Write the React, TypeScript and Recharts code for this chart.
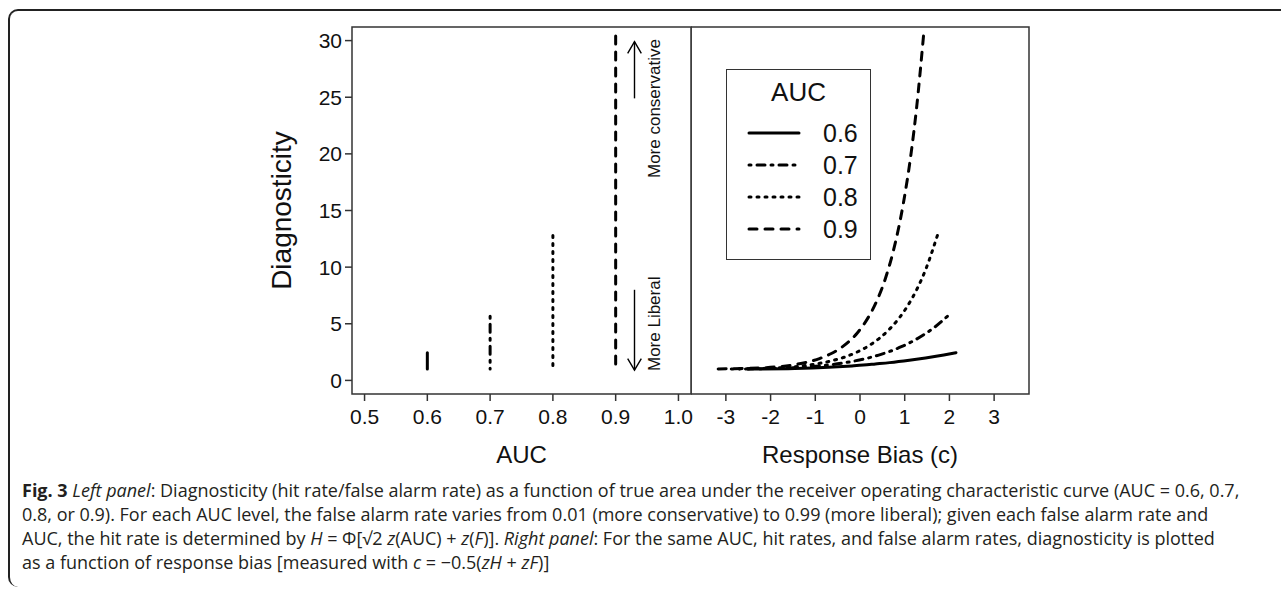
import React from "react";
import {
  LineChart,
  Line,
  XAxis,
  YAxis,
  ReferenceArea,
  ReferenceLine,
  ReferenceDot,
  Legend,
} from "recharts";

// R-style base graphics look: black lines, dark grey box, Arial-ish text.
const INK = "#000";
const AXIS = "#333";
const TXT = "#111";
const FONT = '"Liberation Sans", Arial, Helvetica, sans-serif';
const CAPTION_FONT = '"Open Sans", Lato, sans-serif';

// series
const aucNames = ["0.6", "0.7", "0.8", "0.9"];
const aucDash = ["0", "2 6 8 6", "2 6", "8 8"]; // lty solid, dotdash, dotted, dashed

// left panel: diagnosticity range (F = 0.01 .. 0.99) for each AUC
const leftAuc = [0.6, 0.7, 0.8, 0.9];
const leftTop = [2.45, 5.66, 12.8, 30.4];
const leftBottom = [1.006, 1.009, 1.01, 1.01];

// right panel: response bias c vs diagnosticity, F ascending
const bias06 = [2.147, 1.875, 1.702, 1.466, 1.103, 0.663, 0.345, 0.074, -0.179, -0.703, -1.461, -2.505];
const diag06 = [2.45, 2.25, 2.13, 1.98, 1.78, 1.57, 1.45, 1.35, 1.28, 1.16, 1.055, 1.006];
const bias07 = [1.955, 1.683, 1.51, 1.274, 1.105, 0.911, 0.665, 0.471, 0.154, -0.118, -0.371, -0.895, -1.652, -2.697];
const diag07 = [5.66, 4.74, 4.25, 3.67, 3.31, 2.95, 2.56, 2.3, 1.95, 1.72, 1.54, 1.28, 1.087, 1.009];
const bias08 = [1.731, 1.459, 1.286, 1.05, 0.881, 0.687, 0.441, 0.246, -0.071, -0.342, -0.595, -1.119, -1.877, -2.921];
const diag08 = [12.8, 9.69, 8.16, 6.49, 5.53, 4.64, 3.74, 3.18, 2.49, 2.06, 1.77, 1.367, 1.104, 1.01];
const bias09 = [1.42, 1.264, 1.148, 0.975, 0.739, 0.57, 0.376, 0.13, -0.065, -0.382, -0.653, -0.906, -1.431, -2.188, -3.232];
const diag09 = [30.4, 24.0, 20.2, 15.75, 11.33, 9.02, 7.02, 5.21, 4.17, 3.0, 2.35, 1.93, 1.415, 1.11, 1.01];

// axes
const yDomain = [-1.2, 31.2];
const yTicks = [0, 5, 10, 15, 20, 25, 30];
const aucDomain = [0.48, 1.02];
const aucTicks = [0.5, 0.6, 0.7, 0.8, 0.9, 1.0];
const biasDomain = [-3.78, 3.78];
const biasTicks = [-3, -2, -1, 0, 1, 2, 3];

// annotation anchors (data units of the left panel)
const arrowX = 0.93;
const upArrow = [24.9, 29.9];
const downArrow = [8.0, 0.9];
const noteX = 0.961;
const noteConservativeY = 24.0;
const noteLiberalY = 5.0;

const leftSeries = leftAuc.map((a, i) => [
  { a, d: leftTop[i] },
  { a, d: leftBottom[i] },
]);
const rightSeries = [
  [bias06, diag06],
  [bias07, diag07],
  [bias08, diag08],
  [bias09, diag09],
].map(([cs, ds]) => cs.map((c, j) => ({ c, d: ds[j] })));

const tickStyle = { fontSize: 21, fill: TXT, fontFamily: FONT };

function Arrow(p: any) {
  const { x1, y1, x2, y2 } = p;
  const ang = Math.atan2(y2 - y1, x2 - x1);
  const len = 13.5;
  const a1 = ang + Math.PI - 0.53;
  const a2 = ang + Math.PI + 0.53;
  const head = `M${x2 + len * Math.cos(a1)},${y2 + len * Math.sin(a1)} L${x2},${y2} L${x2 + len * Math.cos(a2)},${y2 + len * Math.sin(a2)}`;
  return (
    <g>
      <line x1={x1} y1={y1} x2={x2} y2={y2} stroke={INK} strokeWidth={1.4} />
      <path d={head} fill="none" stroke={INK} strokeWidth={1.4} />
    </g>
  );
}

function AucLegend(props: any) {
  const payload = props.payload ?? [];
  return (
    <div
      style={{
        border: `1.5px solid ${AXIS}`,
        background: "#fff",
        width: 145,
        height: 191,
        boxSizing: "border-box",
        fontFamily: FONT,
        color: TXT,
      }}
    >
      <div style={{ fontSize: 26, lineHeight: "30px", textAlign: "center", marginTop: 7 }}>AUC</div>
      <div style={{ marginTop: 10 }}>
        {payload.map((entry: any, i: number) => {
          const dash = entry.payload?.strokeDasharray ?? aucDash[i];
          return (
            <div key={i} style={{ display: "flex", alignItems: "center", height: 32 }}>
              <svg width={54} height={32} style={{ marginLeft: 20 }}>
                <line
                  x1={2}
                  y1={16}
                  x2={52}
                  y2={16}
                  stroke={INK}
                  strokeWidth={3}
                  strokeLinecap="round"
                  strokeDasharray={dash}
                />
              </svg>
              <span style={{ marginLeft: 22, fontSize: 25, lineHeight: "32px" }}>{entry.value ?? aucNames[i]}</span>
            </div>
          );
        })}
      </div>
    </div>
  );
}

const captionLine: React.CSSProperties = {
  position: "absolute",
  left: 22,
  whiteSpace: "nowrap",
  fontFamily: CAPTION_FONT,
  fontSize: 18,
  lineHeight: "24px",
  color: "#231f20",
};

export default function App() {
  return (
    <div
      style={{
        position: "absolute",
        left: 0,
        top: 0,
        width: 1281,
        height: 590,
        background: "#fff",
        fontFamily: FONT,
        overflow: "hidden",
      }}
    >
      {/* figure frame: top rule and rounded left edge */}
      <div
        style={{
          position: "absolute",
          left: 8,
          top: 9,
          width: 1290,
          height: 578,
          borderTop: "2px solid #222",
          borderLeft: "2px solid #222",
          borderRadius: "10px 0 0 10px",
          boxSizing: "border-box",
        }}
      />

      {/* left panel */}
      <div style={{ position: "absolute", left: 211, top: 0 }}>
        <LineChart width={490} height={478} margin={{ top: 27, right: 10, bottom: 12, left: 0 }}>
          <XAxis
            type="number"
            dataKey="a"
            domain={aucDomain}
            ticks={aucTicks}
            allowDataOverflow
            tickFormatter={(v: number) => v.toFixed(1)}
            axisLine={false}
            tickSize={7}
            tickMargin={8}
            tickLine={{ stroke: AXIS, strokeWidth: 1.5 }}
            tick={tickStyle}
            height={72}
            label={{ value: "AUC", position: "insideBottom", offset: 3, fontSize: 24, fill: TXT, fontFamily: FONT }}
          />
          <YAxis
            type="number"
            domain={yDomain}
            ticks={yTicks}
            allowDataOverflow
            axisLine={false}
            tickSize={7}
            tickMargin={3}
            tickLine={{ stroke: AXIS, strokeWidth: 1.5 }}
            tick={tickStyle}
            width={141}
            label={{ value: "Diagnosticity", angle: -90, position: "center", fontSize: 28, fill: TXT, fontFamily: FONT }}
          />
          <ReferenceArea
            x1={aucDomain[0]}
            x2={aucDomain[1]}
            y1={yDomain[0]}
            y2={yDomain[1]}
            fill="none"
            fillOpacity={0}
            stroke={AXIS}
            strokeWidth={1.5}
            ifOverflow="visible"
          />
          {leftSeries.map((data, i) => (
            <Line
              key={aucNames[i]}
              data={data}
              dataKey="d"
              name={aucNames[i]}
              type="linear"
              stroke={INK}
              strokeWidth={3}
              strokeLinecap="round"
              strokeDasharray={aucDash[i]}
              dot={false}
              activeDot={false}
              isAnimationActive={false}
            />
          ))}
          <ReferenceLine
            segment={[
              { x: arrowX, y: upArrow[0] },
              { x: arrowX, y: upArrow[1] },
            ]}
            shape={Arrow}
          />
          <ReferenceLine
            segment={[
              { x: arrowX, y: downArrow[0] },
              { x: arrowX, y: downArrow[1] },
            ]}
            shape={Arrow}
          />
          <ReferenceDot
            x={noteX}
            y={noteConservativeY}
            r={0}
            fill="none"
            stroke="none"
            label={{ value: "More conservative", angle: -90, position: "center", fontSize: 17, fill: TXT, fontFamily: FONT }}
          />
          <ReferenceDot
            x={noteX}
            y={noteLiberalY}
            r={0}
            fill="none"
            stroke="none"
            label={{ value: "More Liberal", angle: -90, position: "center", fontSize: 17, fill: TXT, fontFamily: FONT }}
          />
        </LineChart>
      </div>

      {/* right panel */}
      <div style={{ position: "absolute", left: 691, top: 0 }}>
        <LineChart width={348} height={478} margin={{ top: 27, right: 10, bottom: 12, left: 0 }}>
          <XAxis
            type="number"
            dataKey="c"
            domain={biasDomain}
            ticks={biasTicks}
            allowDataOverflow
            axisLine={false}
            tickSize={7}
            tickMargin={8}
            tickLine={{ stroke: AXIS, strokeWidth: 1.5 }}
            tick={tickStyle}
            height={72}
            label={{ value: "Response Bias (c)", position: "insideBottom", offset: 3, fontSize: 24, fill: TXT, fontFamily: FONT }}
          />
          <YAxis type="number" domain={yDomain} allowDataOverflow hide />
          <ReferenceArea
            x1={biasDomain[0]}
            x2={biasDomain[1]}
            y1={yDomain[0]}
            y2={yDomain[1]}
            fill="none"
            fillOpacity={0}
            stroke={AXIS}
            strokeWidth={1.5}
            ifOverflow="visible"
          />
          {rightSeries.map((data, i) => (
            <Line
              key={aucNames[i]}
              data={data}
              dataKey="d"
              name={aucNames[i]}
              type="monotone"
              stroke={INK}
              strokeWidth={3}
              strokeLinecap="round"
              strokeDasharray={aucDash[i]}
              dot={false}
              activeDot={false}
              isAnimationActive={false}
            />
          ))}
          <Legend
            layout="vertical"
            align="center"
            verticalAlign="middle"
            width={145}
            height={191}
            wrapperStyle={{ left: 35, top: 69, width: 145, height: 191 }}
            content={<AucLegend />}
          />
        </LineChart>
      </div>

      {/* caption */}
      <div style={{ ...captionLine, top: 478 }}>
        <b>Fig. 3</b> <i>Left panel</i>: Diagnosticity (hit rate/false alarm rate) as a function of true area under the receiver operating characteristic curve (AUC = 0.6, 0.7,
      </div>
      <div style={{ ...captionLine, top: 502 }}>
        0.8, or 0.9). For each AUC level, the false alarm rate varies from 0.01 (more conservative) to 0.99 (more liberal); given each false alarm rate and
      </div>
      <div style={{ ...captionLine, top: 526 }}>
        AUC, the hit rate is determined by <i>H</i> = Φ[√2 <i>z</i>(AUC) + <i>z</i>(<i>F</i>)]. <i>Right panel</i>: For the same AUC, hit rates, and false alarm rates, diagnosticity is plotted
      </div>
      <div style={{ ...captionLine, top: 550 }}>
        as a function of response bias [measured with <i>c</i> = −0.5(<i>zH</i> + <i>zF</i>)]
      </div>
    </div>
  );
}
